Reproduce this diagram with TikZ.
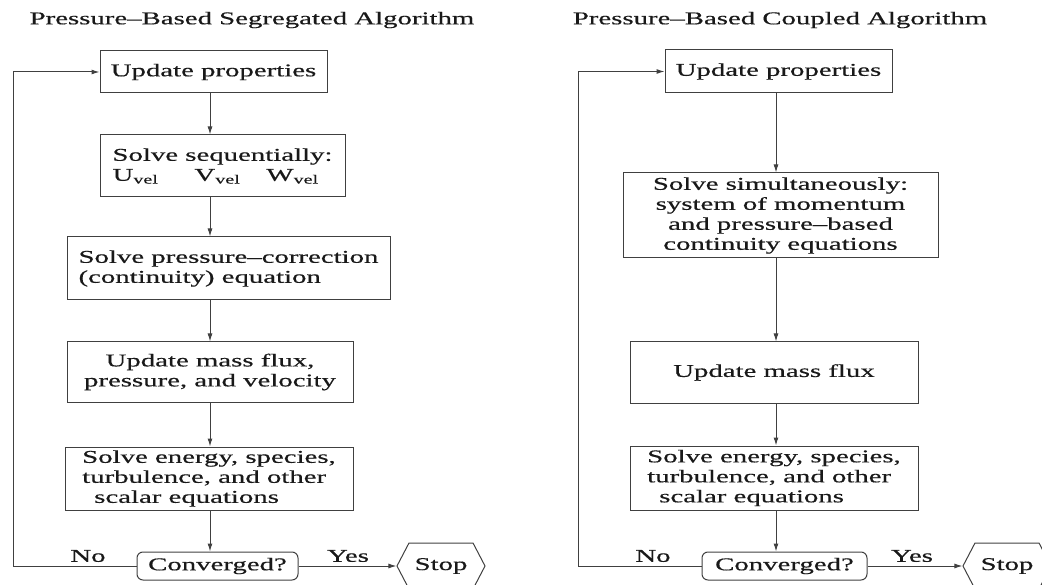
\documentclass[tikz,border=0pt]{standalone}
\usepackage{fontspec}
\setmainfont{Liberation Serif}[FakeStretch=1.6, FakeBold=0.5]
\usepackage{tikz}
\usetikzlibrary{shapes, shapes.symbols, arrows.meta, positioning}

\tikzset{
  box/.style={rectangle, draw, inner sep=2pt, align=left},
  decision/.style={rectangle, rounded corners=6pt, draw, inner sep=2pt},
  stopbox/.style={signal, signal to=west and east, signal pointer angle=125,
    draw, inner sep=2pt, minimum width=88, minimum height=46},
}

\begin{document}
\begin{tikzpicture}[x=1pt, y=-1pt, ->, >={Latex[length=8pt,width=5pt]},
    font=\fontsize{18}{20}\selectfont, draw=black!75, line width=1pt, text=black!90]
  \useasboundingbox (0,0) rectangle (1042,585);

  % segregated
  \node (title1) at (252,20) {Pressure--Based Segregated Algorithm};
  \node[box, minimum width=227, minimum height=42] (up1) at (213.5,72) {Update properties};
  \node[box, minimum width=245, minimum height=62] (seq1) at (222.5,166)
    {Solve sequentially:\\U\textsubscript{vel}\hspace{36pt}V\textsubscript{vel}\hspace{26pt}W\textsubscript{vel}};
  \node[box, minimum width=323, minimum height=63] (pc1) at (228.5,268.5)
    {Solve pressure--correction\\(continuity) equation};
  \node[box, align=center, minimum width=286, minimum height=60] (mf1) at (210,372)
    {Update mass flux,\\pressure, and velocity};
  \node[box, minimum width=288, minimum height=63] (en1) at (209,478.5)
    {Solve energy, species,\\turbulence, and other\\\hspace{12pt}scalar equations};
  \node[decision, minimum width=161, minimum height=28] (conv1) at (217.5,566) {Converged?};
  \node[stopbox] (stop1) at (441,566) {Stop};
  \node (no1) at (88,556) {No};
  \node (yes1) at (348,556) {Yes};
  \coordinate (colL) at (210,0);
  \coordinate (loopL) at (13,0);

  \draw (up1.south -| colL) -- (seq1.north -| colL);
  \draw (seq1.south -| colL) -- (pc1.north -| colL);
  \draw (pc1.south -| colL) -- (mf1.north -| colL);
  \draw (mf1.south -| colL) -- (en1.north -| colL);
  \draw (en1.south -| colL) -- (conv1.north -| colL);
  \draw (conv1.east) -- (stop1.west);
  \draw (conv1.west) -- (conv1.west -| loopL) |- (up1.west);

  % coupled
  \node (title2) at (780,20) {Pressure--Based Coupled Algorithm};
  \node[box, minimum width=227, minimum height=43] (up2) at (778.5,71.5) {Update properties};
  \node[box, align=center, minimum width=315, minimum height=85] (sim2) at (780.5,215.5)
    {Solve simultaneously:\\system of momentum\\and pressure--based\\continuity equations};
  \node[box, minimum width=288, minimum height=61] (mf2) at (774,372.5) {Update mass flux};
  \node[box, minimum width=288, minimum height=64] (en2) at (774,478)
    {Solve energy, species,\\turbulence, and other\\\hspace{12pt}scalar equations};
  \node[decision, minimum width=165, minimum height=28] (conv2) at (784.5,566) {Converged?};
  \node[stopbox] (stop2) at (1007,566) {Stop};
  \node (no2) at (653,556) {No};
  \node (yes2) at (912,556) {Yes};
  \coordinate (colR) at (776,0);
  \coordinate (loopR) at (578,0);

  \draw (up2.south -| colR) -- (sim2.north -| colR);
  \draw (sim2.south -| colR) -- (mf2.north -| colR);
  \draw (mf2.south -| colR) -- (en2.north -| colR);
  \draw (en2.south -| colR) -- (conv2.north -| colR);
  \draw (conv2.east) -- (stop2.west);
  \draw (conv2.west) -- (conv2.west -| loopR) |- (up2.west);
\end{tikzpicture}
\end{document}
